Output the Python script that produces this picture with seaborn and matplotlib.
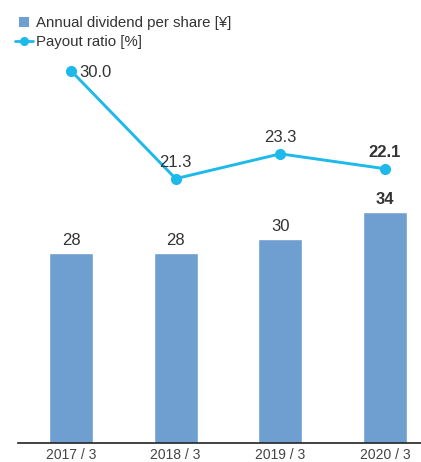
import matplotlib
matplotlib.use("Agg")
import matplotlib.pyplot as plt
from matplotlib.lines import Line2D
import seaborn as sns
import pandas as pd

years = ["2017 / 3", "2018 / 3", "2019 / 3", "2020 / 3"]
dividend = [28, 28, 30, 34]
payout = [30.0, 21.3, 23.3, 22.1]

bar_color = "#6F9FD1"
line_color = "#1CB9EA"
text_color = "#333333"

sns.set_theme(style="white")
plt.rcParams["font.family"] = ["Liberation Sans", "DejaVu Sans"]

df = pd.DataFrame({"year": years, "dividend": dividend, "payout": payout})

W, H = 421, 462
fig = plt.figure(figsize=(W / 100, H / 100), dpi=100)
left, right, bottom, top = 18, 421, 443, 40
ax = fig.add_axes([left / W, 1 - bottom / H, (right - left) / W, (bottom - top) / H])

sns.barplot(data=df, x="year", y="dividend", color=bar_color, width=0.42,
            saturation=1, ax=ax)
ax.set_xlim(-0.506, 3.344)
ax.set_ylim(0, (bottom - top) / 6.79)
ax.set_xlabel("")
ax.set_ylabel("")
ax.set_yticks([])
for s in ["left", "right", "top"]:
    ax.spines[s].set_visible(False)
ax.spines["bottom"].set_color("#222222")
ax.spines["bottom"].set_linewidth(1.2)
ax.tick_params(axis="x", length=0, pad=3.5, labelsize=10, labelcolor="#444444")

for i, v in enumerate(dividend):
    last = i == len(dividend) - 1
    ax.annotate(f"{v}", (i, v), xytext=(0, 6), textcoords="offset points",
                ha="center", va="baseline", fontsize=12, color=text_color,
                fontweight="bold" if last else "normal")

ax2 = ax.twinx()
sns.lineplot(x=list(range(len(years))), y=payout, color=line_color, linewidth=2.1,
             marker="o", markersize=8, markeredgewidth=0, ax=ax2)
ax2.set_ylim(0, (bottom - top) / 12.41)
ax2.set_yticks([])
for s in ["left", "right", "top", "bottom"]:
    ax2.spines[s].set_visible(False)

for i, v in enumerate(payout):
    last = i == len(payout) - 1
    if i == 0:
        ax2.annotate(f"{v:.1f}", (i, v), xytext=(6, 0), textcoords="offset points",
                     ha="left", va="center_baseline", fontsize=12, color=text_color)
    else:
        ax2.annotate(f"{v:.1f}", (i, v), xytext=(0, 8.6), textcoords="offset points",
                     ha="center", va="baseline", fontsize=12, color=text_color,
                     fontweight="bold" if last else "normal")

handles = [
    Line2D([0], [0], linestyle="none", marker="s", markersize=6.5, color=bar_color,
           markeredgewidth=0, label="Annual dividend per share [¥]"),
    Line2D([0], [0], color=line_color, linewidth=2, marker="o", markersize=6.5,
           markeredgewidth=0, label="Payout ratio [%]"),
]
fig.legend(handles=handles, loc="upper left",
           bbox_to_anchor=(15 / W, 1 - 16 / H), frameon=False, fontsize=10.8,
           handlelength=1.2, handletextpad=0.2, labelspacing=0.32,
           borderpad=0, borderaxespad=0, labelcolor=text_color)

fig.savefig("out.png", dpi=100)
